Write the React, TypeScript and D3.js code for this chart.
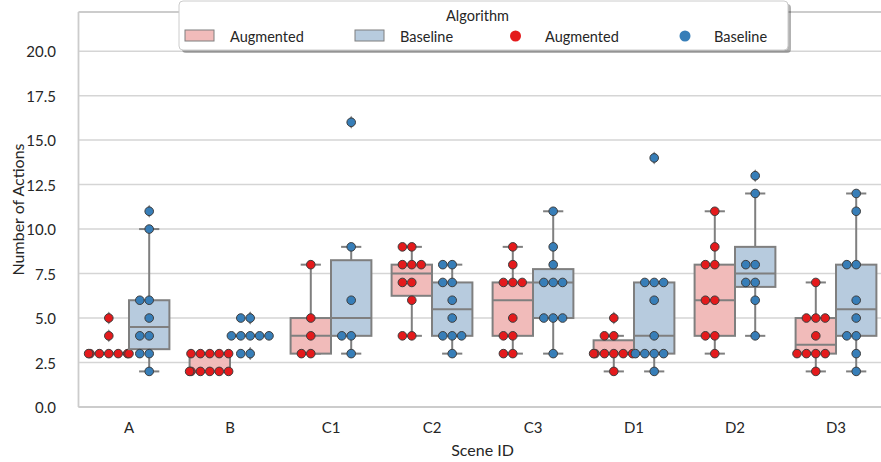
import React from 'react';
import * as d3 from 'd3';

// scenes on the x axis, hue = algorithm
const scenes = ['A', 'B', 'C1', 'C2', 'C3', 'D1', 'D2', 'D3'];
const algorithms = ['Augmented', 'Baseline'];

// number of actions per run
const augmentedActions = [
  [3, 3, 3, 3, 3, 3, 3, 4, 5],
  [2, 2, 2, 2, 2, 2, 3, 3, 3, 3, 3],
  [3, 3, 4, 5, 8],
  [4, 4, 6, 7, 7, 8, 8, 8, 9, 9],
  [3, 3, 4, 4, 5, 7, 7, 7, 8, 9],
  [2, 3, 3, 3, 3, 3, 3, 4, 4, 5],
  [3, 4, 4, 6, 6, 8, 8, 9, 11],
  [2, 3, 3, 3, 3, 4, 5, 5, 5, 7],
];
const baselineActions = [
  [2, 3, 3, 4, 4, 5, 6, 6, 10, 11],
  [3, 3, 4, 4, 4, 4, 4, 5, 5],
  [3, 4, 4, 6, 9, 16],
  [3, 4, 4, 4, 5, 6, 7, 7, 8, 8],
  [3, 5, 5, 5, 7, 7, 7, 8, 9, 11],
  [2, 3, 3, 3, 3, 4, 6, 7, 7, 7, 14],
  [4, 6, 7, 7, 8, 8, 12, 13],
  [2, 3, 4, 4, 5, 6, 8, 8, 11, 12],
];
const yTicks = [0, 2.5, 5, 7.5, 10, 12.5, 15, 17.5, 20];

const pointColors = ['#e41a1c', '#377eb8'];
const boxColors = ['#f1bbba', '#b7cbde'];
const lineGrey = '#7f7f7f';
const font = 'Lato, "Open Sans", sans-serif';

const W = 881;
const H = 462;
const left = 78.5;
const top = 12;
const bottom = 407;

const x = d3.scaleBand().domain(scenes).range([left, left + 101 * scenes.length]);
const y = d3.scaleLinear().domain([0, 22.2]).range([bottom, top]);

const boxStats = (vals: number[]) => {
  const s = [...vals].sort(d3.ascending);
  const q1 = d3.quantile(s, 0.25)!;
  const med = d3.quantile(s, 0.5)!;
  const q3 = d3.quantile(s, 0.75)!;
  const iqr = q3 - q1;
  const inside = s.filter(v => v >= q1 - 1.5 * iqr && v <= q3 + 1.5 * iqr);
  const lo = d3.min(inside)!;
  const hi = d3.max(inside)!;
  const fliers = s.filter(v => v < lo || v > hi);
  return { q1, med, q3, lo, hi, fliers };
};

// simple swarm: identical values spread center, left, right, ... clamped to the box width
const swarm = (vals: number[], half: number, d: number) => {
  const count = new Map<number, number>();
  return vals.map(v => {
    const k = count.get(v) || 0;
    count.set(v, k + 1);
    let off = k === 0 ? 0 : k % 2 ? -((k + 1) / 2) * d : (k / 2) * d;
    off = Math.max(-half, Math.min(half, off));
    return { v, off };
  });
};

const Group = ({ vals, cx, hue }: { vals: number[]; cx: number; hue: number }) => {
  const bw = x.bandwidth() * 0.4;
  const st = boxStats(vals);
  const cap = bw / 4;
  const pts = swarm(vals, bw / 2, 9.4);
  return (
    <g>
      <line x1={cx} x2={cx} y1={y(st.q1)} y2={y(st.lo)} stroke={lineGrey} strokeWidth={2} />
      <line x1={cx} x2={cx} y1={y(st.q3)} y2={y(st.hi)} stroke={lineGrey} strokeWidth={2} />
      <line x1={cx - cap} x2={cx + cap} y1={y(st.lo)} y2={y(st.lo)} stroke={lineGrey} strokeWidth={2} />
      <line x1={cx - cap} x2={cx + cap} y1={y(st.hi)} y2={y(st.hi)} stroke={lineGrey} strokeWidth={2} />
      <rect
        x={cx - bw / 2}
        y={y(st.q3)}
        width={bw}
        height={Math.max(0, y(st.q1) - y(st.q3))}
        fill={boxColors[hue]}
        stroke={lineGrey}
        strokeWidth={2}
      />
      <line x1={cx - bw / 2} x2={cx + bw / 2} y1={y(st.med)} y2={y(st.med)} stroke={lineGrey} strokeWidth={2} />
      {st.fliers.map((f, i) => (
        <path
          key={i}
          d={`M${cx},${y(f) - 6.5}L${cx + 4},${y(f)}L${cx},${y(f) + 6.5}L${cx - 4},${y(f)}Z`}
          fill={lineGrey}
        />
      ))}
      {pts.map((p, i) => (
        <circle key={i} cx={cx + p.off} cy={y(p.v)} r={4.3} fill={pointColors[hue]} stroke="#3d3d3d" strokeWidth={1} />
      ))}
    </g>
  );
};

const Legend = () => {
  const lx = 179;
  const ly = 1;
  const lw = 609;
  const lh = 49;
  const cy = 36;
  const textStyle = { fontFamily: font, fontSize: 14.5, fill: '#262626' };
  return (
    <g>
      <rect x={lx + 3} y={ly + 3} width={lw} height={lh} rx={4} fill="#000" opacity={0.3} />
      <rect x={lx} y={ly} width={lw} height={lh} rx={4} fill="#fff" stroke="#cccccc" strokeWidth={1} />
      <text x={lx + lw / 2 - 6} y={15} textAnchor="middle" dominantBaseline="central" style={textStyle}>
        Algorithm
      </text>
      <rect x={185} y={cy - 6} width={29} height={11} fill={boxColors[0]} stroke={lineGrey} strokeWidth={1} />
      <text x={230} y={cy} dominantBaseline="central" style={textStyle}>{algorithms[0]}</text>
      <rect x={355} y={cy - 6} width={29} height={11} fill={boxColors[1]} stroke={lineGrey} strokeWidth={1} />
      <text x={400} y={cy} dominantBaseline="central" style={textStyle}>{algorithms[1]}</text>
      <circle cx={515.5} cy={cy} r={5.5} fill={pointColors[0]} />
      <text x={545} y={cy} dominantBaseline="central" style={textStyle}>{algorithms[0]}</text>
      <circle cx={685} cy={cy} r={5.5} fill={pointColors[1]} />
      <text x={714} y={cy} dominantBaseline="central" style={textStyle}>{algorithms[1]}</text>
    </g>
  );
};

export default function App() {
  const right = left + 101 * scenes.length;
  const tickStyle = { fontFamily: font, fontSize: 15, fill: '#262626' };
  const labelStyle = { fontFamily: font, fontSize: 16, fill: '#262626' };
  return (
    <svg width={W} height={H} style={{ position: 'absolute', left: 0, top: 0, background: '#fff' }}>
      {yTicks.map(t => (
        <g key={t}>
          <line x1={left} x2={right} y1={y(t)} y2={y(t)} stroke="#d5d5d5" strokeWidth={1.5} />
          <text x={56} y={y(t)} textAnchor="end" dominantBaseline="central" style={tickStyle}>
            {t.toFixed(1)}
          </text>
        </g>
      ))}
      <line x1={left} x2={left} y1={top} y2={bottom} stroke="#cccccc" strokeWidth={1.8} />
      <line x1={left} x2={right} y1={bottom} y2={bottom} stroke="#cccccc" strokeWidth={1.8} />
      <line x1={left} x2={right} y1={top} y2={top} stroke="#cccccc" strokeWidth={1.8} />
      {scenes.map((s, i) => {
        const c = x(s)! + x.bandwidth() / 2;
        return (
          <g key={s}>
            <Group vals={augmentedActions[i]} cx={c - x.bandwidth() * 0.2} hue={0} />
            <Group vals={baselineActions[i]} cx={c + x.bandwidth() * 0.2} hue={1} />
            <text x={c} y={427} textAnchor="middle" dominantBaseline="central" style={tickStyle}>
              {s}
            </text>
          </g>
        );
      })}
      <text x={(left + right) / 2} y={449} textAnchor="middle" dominantBaseline="central" style={labelStyle}>
        Scene ID
      </text>
      <text
        transform={`translate(17,${(top + bottom) / 2}) rotate(-90)`}
        textAnchor="middle"
        dominantBaseline="central"
        style={labelStyle}
      >
        Number of Actions
      </text>
      <Legend />
    </svg>
  );
}
